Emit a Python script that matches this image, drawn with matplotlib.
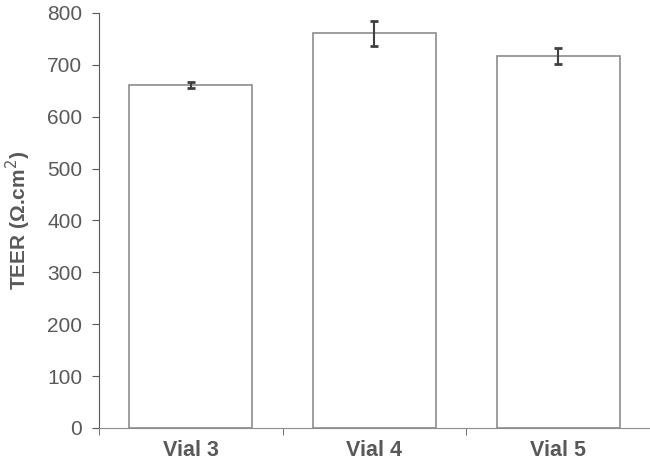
import numpy as np
import matplotlib.pyplot as plt
from matplotlib.ticker import FixedLocator

plt.rcParams['font.family'] = ['Liberation Sans', 'DejaVu Sans']

vials = ['Vial 3', 'Vial 4', 'Vial 5']
teer = [661, 761, 717]
teer_err = [5, 24, 16]

grey = '#595959'
fig = plt.figure(figsize=(6.5, 4.7), dpi=100)
ax = fig.add_axes([0.152, 0.0894, 0.848, 0.883])

x = np.arange(len(vials))
ax.bar(x, teer, width=0.67, color='white', edgecolor='#8c8c8c', linewidth=1.2,
       yerr=teer_err, error_kw=dict(ecolor='#404040', elinewidth=1.5, capsize=3, capthick=2))

ax.set_xlim(-0.5, 2.5)
ax.set_ylim(0, 800)
ax.set_yticks(range(0, 801, 100))
ax.set_xticks(x)
ax.set_xticklabels(vials, fontsize=15.5, fontweight='bold', color=grey)
ax.xaxis.set_minor_locator(FixedLocator([-0.5, 0.5, 1.5, 2.5]))
ax.tick_params(axis='x', which='major', length=0, pad=9)
ax.tick_params(axis='x', which='minor', length=5, color=grey, direction='out')
ax.tick_params(axis='y', length=5, color=grey, labelsize=15, labelcolor=grey, pad=7)

ax.set_ylabel('TEER (Ω.cm$^{2}$)', fontsize=15, fontweight='bold', color=grey, labelpad=10)

for s in ['top', 'right']:
    ax.spines[s].set_visible(False)
ax.spines['left'].set_color(grey)
ax.spines['bottom'].set_color('#8c8c8c')

fig.savefig('out.png', dpi=100)
